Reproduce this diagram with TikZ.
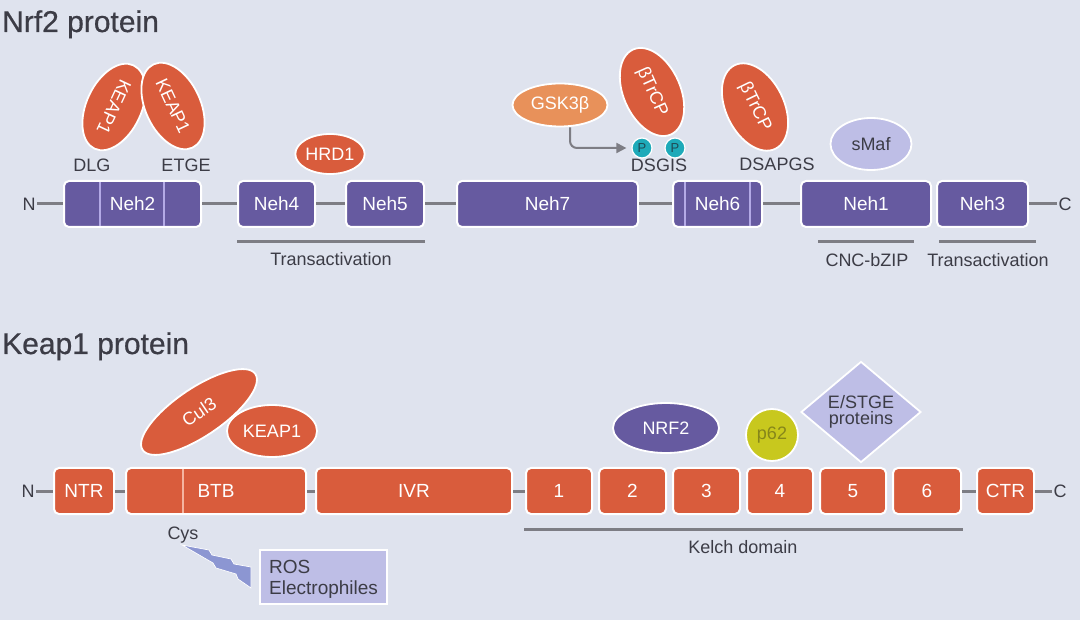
\documentclass[tikz,border=0pt]{standalone}
\usepackage{fontspec}
\setmainfont{Liberation Sans}
\newfontfamily\titlefont[FakeBold=0.6]{Liberation Sans}
\usetikzlibrary{shapes.geometric,arrows.meta}
\definecolor{bg}{HTML}{DFE3EE}
\definecolor{nrfpurple}{HTML}{665AA0}
\definecolor{keaporange}{HTML}{D95C3C}
\definecolor{gskorange}{HTML}{E8915A}
\definecolor{lav}{HTML}{BEBEE6}
\definecolor{tealc}{HTML}{1EAAB9}
\definecolor{ptext}{HTML}{1F4A55}
\definecolor{limec}{HTML}{C8C81E}
\definecolor{limetext}{HTML}{86861A}
\definecolor{txt}{HTML}{3C3C46}
\definecolor{linegrey}{HTML}{7D7D84}
\definecolor{boltc}{HTML}{8C96D2}
\definecolor{divpurple}{HTML}{B4AAE6}
\definecolor{divorange}{HTML}{F5B4A0}
\begin{document}
\begin{tikzpicture}[x=1pt,y=-1pt,
  fnt/.style={font=\fontsize{#1}{#1}\selectfont},
  nbox/.style={rectangle, draw=white, line width=2pt, rounded corners=5pt, fill=nrfpurple, text=white,
     minimum height=46pt, inner sep=0pt, fnt=19},
  kbox/.style={nbox, fill=keaporange},
  ell/.style={ellipse, draw=white, line width=1.8pt, inner sep=0pt, text=white, fnt=18},
  lbl/.style={text=txt, inner sep=1.5pt, fnt=18},
  blbl/.style={text=txt, inner sep=0pt, anchor=base, fnt=18},
  conn/.style={draw=linegrey, line width=3pt},
  uline/.style={draw=linegrey, line width=3pt},
  pcirc/.style={circle, fill=tealc, draw=white, line width=1.2pt, minimum size=20pt, inner sep=0pt, text=ptext, fnt=13},
  title/.style={text=txt, anchor=base west, inner sep=0pt, font=\titlefont\fontsize{30}{30}\selectfont}
]
\useasboundingbox (0,0) rectangle (1080,620);
\fill[bg] (0,0) rectangle (1080,620);

% ---------------- Nrf2 protein ----------------
\node[title] (t1) at (2,32) {Nrf2 protein};

\node[lbl] (nN) at (29,204) {N};
\node[nbox, minimum width=137pt] (neh2) at (132.5,204) {Neh2};
\node[nbox, minimum width=77pt] (neh4) at (276.5,204) {Neh4};
\node[nbox, minimum width=78pt] (neh5) at (385,204) {Neh5};
\node[nbox, minimum width=181pt] (neh7) at (547.5,204) {Neh7};
\node[nbox, minimum width=89pt] (neh6) at (717.5,204) {Neh6};
\node[nbox, minimum width=130pt] (neh1) at (866,204) {Neh1};
\node[nbox, minimum width=91pt] (neh3) at (982.5,204) {Neh3};
\node[lbl] (nC) at (1065,204) {C};

\draw[divpurple, line width=2pt] (100,182) -- (100,226) (164,182) -- (164,226);
\draw[divpurple, line width=2pt] (685,182) -- (685,226) (750,182) -- (750,226);

\draw[conn] (nN) -- (neh2);
\draw[conn] (neh2) -- (neh4);
\draw[conn] (neh4) -- (neh5);
\draw[conn] (neh5) -- (neh7);
\draw[conn] (neh7) -- (neh6);
\draw[conn] (neh6) -- (neh1);
\draw[conn] (neh3) -- (nC);

% underlines
\coordinate (ta1) at (237,242); \coordinate (ta2) at (425,242);
\coordinate (cb1) at (818,242); \coordinate (cb2) at (914,242);
\coordinate (tb1) at (939,242); \coordinate (tb2) at (1036,242);
\draw[uline] (ta1) -- (ta2);
\draw[uline] (cb1) -- (cb2);
\draw[uline] (tb1) -- (tb2);
\node[blbl] (trans1) at (331,266) {Transactivation};
\node[blbl] (cnc) at (867,267) {CNC-bZIP};
\node[blbl] (trans2) at (988,267) {Transactivation};

% motif labels
\node[blbl] (dlg) at (92,172) {DLG};
\node[blbl] (etge) at (186,172) {ETGE};
\node[blbl] (dsgis) at (659,172) {DSGIS};
\node[blbl] (dsapgs) at (777,171) {DSAPGS};

% binding partners
\node[ell, fill=keaporange, minimum width=92pt, minimum height=55pt, rotate=-115] (keapL) at (114,107) {KEAP1};
\node[ell, fill=keaporange, minimum width=92pt, minimum height=55pt, rotate=-65] (keapR) at (173,106) {KEAP1};
\node[ell, fill=keaporange, minimum width=64pt, minimum height=40pt] (hrd1) at (330,154) {HRD1};
\node[ell, fill=gskorange, minimum width=95pt, minimum height=43pt] (gsk) at (560,105) {GSK3β};
\node[ell, fill=keaporange, minimum width=93pt, minimum height=57pt, rotate=-66] (btrcp1) at (652,92) {βTrCP};
\node[ell, fill=keaporange, minimum width=93pt, minimum height=58pt, rotate=-64] (btrcp2) at (755,107) {βTrCP};
\node[ell, fill=lav, text=txt, minimum width=81pt, minimum height=52pt] (smaf) at (871,144) {sMaf};

\node[pcirc] (p1) at (642,148) {P};
\node[pcirc] (p2) at (675,148) {P};
\draw[draw=linegrey, line width=2pt, rounded corners=7pt, -{Triangle[length=10pt,width=10pt]}, shorten >=5pt]
  ([xshift=10pt]gsk.south) |- (p1.west);

% ---------------- Keap1 protein ----------------
\node[title] (t2) at (2,354) {Keap1 protein};

\node[lbl] (kN) at (28,491) {N};
\node[kbox, minimum width=60pt] (ntr) at (84,491) {NTR};
\node[kbox, minimum width=180pt] (btb) at (216,491) {BTB};
\node[kbox, minimum width=196pt] (ivr) at (414,491) {IVR};
\node[kbox, minimum width=66pt] (k1) at (559,491) {1};
\node[kbox, minimum width=67pt] (k2) at (632.5,491) {2};
\node[kbox, minimum width=67pt] (k3) at (706.5,491) {3};
\node[kbox, minimum width=66pt] (k4) at (780,491) {4};
\node[kbox, minimum width=66pt] (k5) at (853,491) {5};
\node[kbox, minimum width=68pt] (k6) at (927,491) {6};
\node[kbox, minimum width=57pt] (ctr) at (1005.5,491) {CTR};
\node[lbl] (kC) at (1060,491) {C};

\draw[divorange, line width=2pt] (183,469) -- (183,513);

\draw[conn] (kN) -- (ntr);
\draw[conn] (ntr) -- (btb);
\draw[conn] (btb) -- (ivr);
\draw[conn] (ivr) -- (k1);
\draw[conn] (k6) -- (ctr);
\draw[conn] (ctr) -- (kC);

\coordinate (kl1) at (524,529); \coordinate (kl2) at (963,529);
\draw[uline] (kl1) -- (kl2);
\node[blbl] (kelch) at (743,553) {Kelch domain};

\node[ell, fill=keaporange, minimum width=136pt, minimum height=48pt, rotate=34] (cul3) at (199,412) {Cul3};
\node[ell, fill=keaporange, minimum width=90pt, minimum height=52pt] (keapK) at (272,431) {KEAP1};
\node[ell, fill=nrfpurple, minimum width=106pt, minimum height=50pt] (nrf2) at (666,428) {NRF2};
\node[circle, draw=white, line width=1.8pt, fill=limec, text=limetext, minimum size=52pt, inner sep=0pt, fnt=18] (p62) at (772,435) {p62};
\node[diamond, draw=white, line width=1.8pt, fill=lav, text=txt, minimum width=120pt, minimum height=101pt,
      inner sep=0pt, align=center, font=\fontsize{18}{16}\selectfont] (estge) at (861,412) {E/STGE\\proteins};

\node[blbl] (cys) at (183,539) {Cys};

% lightning bolt
\filldraw[fill=boltc, draw=white, line width=0.7pt, line join=miter]
  (182,545) -- (209,550) -- (212,555) -- (231,559) -- (234,564) -- (251,567)
  -- (251,588) -- (238,579) -- (236,574) -- (216,568) -- (213,563) -- cycle;

\node[rectangle, draw=white, line width=2pt, fill=lav, text=txt, minimum width=127pt, minimum height=54pt,
      inner sep=0pt] (ros) at (323.5,577) {};
\node[text=txt, anchor=base west, inner sep=0pt, fnt=19] (rostxt) at (269,573) {ROS};
\node[text=txt, anchor=base west, inner sep=0pt, fnt=19] (electxt) at (269,594) {Electrophiles};
\end{tikzpicture}
\end{document}
